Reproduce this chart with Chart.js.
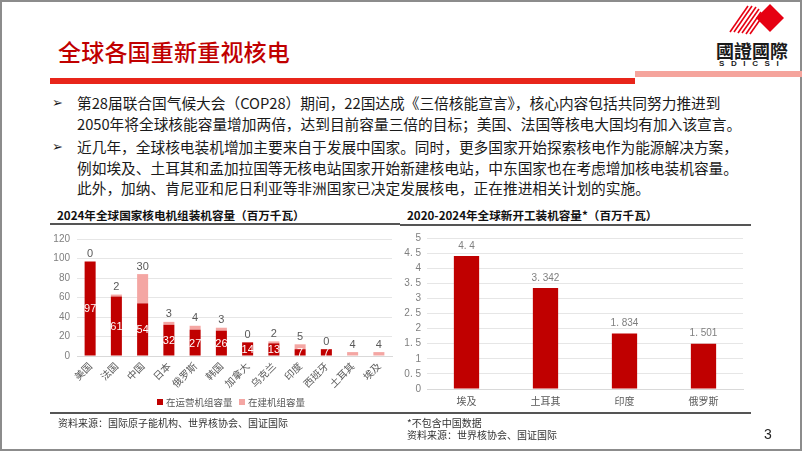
<!DOCTYPE html>
<html lang="zh-CN">
<head>
<meta charset="utf-8">
<script src="https://cdn.jsdelivr.net/npm/chart.js@4.4.1/dist/chart.umd.min.js"></script>
<style>
  html, body { margin: 0; padding: 0; background: #fff; }
  #slide { position: relative; width: 802px; height: 451px; overflow: hidden; font-family: "Noto Sans CJK SC", sans-serif; color: #1a1a1a; }
  .frame { position: absolute; left: 0; top: 0; width: 798px; height: 447px; border: 2px solid #8c8c8c; }
  .abs { position: absolute; white-space: nowrap; }
  .title { left: 58px; top: 36px; font-size: 23px; line-height: 30px; color: #c00000; font-weight: 500; letter-spacing: 0.2px; }
  .redbar { left: 50px; top: 78px; width: 585px; height: 6px; background: #e8251a; }
  .pinkbar { left: 635px; top: 71px; width: 167px; height: 6px; background: #f5a49c; }
  .logo-cn { left: 716px; top: 40px; font-size: 18px; line-height: 20px; font-weight: 700; color: #1a1a1a; letter-spacing: 0px; }
  .logo-en { left: 719px; top: 59px; font-size: 8px; line-height: 9px; font-weight: 700; letter-spacing: 6.6px; font-family: "Liberation Sans", sans-serif; color: #1a1a1a; }
  .para { left: 77px; font-size: 14.7px; line-height: 20.5px; }
  .arrow { left: 52px; font-size: 13px; line-height: 20.5px; font-family: "DejaVu Sans", sans-serif; font-weight: 700; }
  .ctitle { top: 206px; font-size: 11.6px; line-height: 18px; font-weight: 700; color: #111; }
  .hline { height: 1.5px; background: #555; }
  .note { font-size: 10px; line-height: 13px; color: #333; }
  .legend { top: 396px; font-size: 9.5px; line-height: 13px; color: #595959; }
  .legend i { display: inline-block; width: 6px; height: 6px; margin-right: 3px; vertical-align: 1px; }
  canvas { position: absolute; }
</style>
</head>
<body>
<div id="slide">
  <div class="frame"></div>

  <div class="abs title">全球各国重新重视核电</div>
  <div class="abs redbar"></div>
  <div class="abs pinkbar"></div>

  <svg class="abs" style="left:726px;top:2px" width="60" height="34" viewBox="0 0 60 34">
    <polygon points="44,2 58,16 44,30 30,16" fill="#e60012"/>
    <g stroke="#e60012" stroke-width="1.6">
      <line x1="4" y1="30" x2="22" y2="4"/>
      <line x1="8" y1="30" x2="26" y2="4"/>
      <line x1="12" y1="31" x2="30" y2="5"/>
      <line x1="16" y1="31" x2="33" y2="7"/>
      <line x1="20" y1="32" x2="35" y2="10"/>
      <line x1="24" y1="32" x2="36" y2="15"/>
    </g>
  </svg>
  <div class="abs logo-cn">國證國際</div>
  <div class="abs logo-en">SDICSI</div>

  <div class="abs arrow" style="top:93px">➢</div>
  <div class="abs para" style="top:93px">第28届联合国气候大会（COP28）期间，22国达成《三倍核能宣言》，核心内容包括共同努力推进到<br>2050年将全球核能容量增加两倍，达到目前容量三倍的目标；美国、法国等核电大国均有加入该宣言。</div>
  <div class="abs arrow" style="top:137px">➢</div>
  <div class="abs para" style="top:137px">近几年，全球核电装机增加主要来自于发展中国家。同时，更多国家开始探索核电作为能源解决方案，<br>例如埃及、土耳其和孟加拉国等无核电站国家开始新建核电站，中东国家也在考虑增加核电装机容量。<br>此外，加纳、肯尼亚和尼日利亚等非洲国家已决定发展核电，正在推进相关计划的实施。</div>

  <div class="abs ctitle" style="left:57px">2024年全球国家核电机组装机容量（百万千瓦）</div>
  <div class="abs hline" style="left:50px;top:223px;width:350px"></div>
  <div class="abs ctitle" style="left:407px">2020-2024年全球新开工装机容量*（百万千瓦）</div>
  <div class="abs hline" style="left:400px;top:224px;width:351px"></div>

  <canvas id="chart-capacity" width="350" height="170" style="left:50px;top:226px"></canvas>
  <canvas id="chart-new-start" width="352" height="184" style="left:400px;top:226px"></canvas>

  <div class="abs legend" style="left:157px"><i style="background:#c00000"></i>在运营机组容量</div>
  <div class="abs legend" style="left:239px"><i style="background:#f4a6a3"></i>在建机组容量</div>

  <div class="abs hline" style="left:50px;top:412px;width:350px"></div>
  <div class="abs hline" style="left:400px;top:412px;width:351px"></div>
  <div class="abs note" style="left:58px;top:416px">资料来源：国际原子能机构、世界核协会、国证国际</div>
  <div class="abs note" style="left:407px;top:416px">*不包含中国数据</div>
  <div class="abs note" style="left:407px;top:428px">资料来源：世界核协会、国证国际</div>
  <div class="abs" style="left:764px;top:425px;font-size:14px;line-height:18px;font-family:'Liberation Sans',sans-serif;color:#222">3</div>
</div>

<script>
// 2024年各国核电装机容量（百万千瓦）
const countries = ['美国', '法国', '中国', '日本', '俄罗斯', '韩国', '加拿大', '乌克兰', '印度', '西班牙', '土耳其', '埃及'];
const operating = [97, 61, 54, 32, 27, 26, 14, 13, 7, 7, 0, 0];
const underConstruction = [0, 2, 30, 3, 4, 3, 0, 2, 5, 0, 4, 4];
const capacityTicks = [0, 20, 40, 60, 80, 100, 120];

// 2020-2024年新开工装机容量（不含中国）
const startCountries = ['埃及', '土耳其', '印度', '俄罗斯'];
const startCapacity = [4.4, 3.342, 1.834, 1.501];
const startTicks = [0, 0.5, 1, 1.5, 2, 2.5, 3, 3.5, 4, 4.5, 5];

const DARK = '#c00000';
const PINK = '#f4a6a3';
const LABEL_FONT = '"Noto Sans CJK SC", sans-serif';
const NUM_FONT = '"Liberation Sans", Arial, sans-serif';

// 小数点后加空格，模仿原图的全角效果
const fmt = (v) => (Number.isInteger(v) ? String(v) : String(v).replace('.', '. '));

/** 柱子数值标签 */
const barLabels = {
  id: 'barLabels',
  afterDatasetsDraw(chart) {
    const ctx = chart.ctx;
    ctx.save();
    ctx.textAlign = 'center';
    chart.data.datasets.forEach((ds, i) => {
      const meta = chart.getDatasetMeta(i);
      const opt = ds.valueLabel;
      if (!opt) return;
      ctx.font = opt.size + 'px ' + NUM_FONT;
      ctx.fillStyle = opt.color;
      meta.data.forEach((bar, j) => {
        const v = ds.data[j];
        if (opt.pos === 'inside') {
          if (!v) return;
          ctx.textBaseline = 'middle';
          ctx.fillText(fmt(v), bar.x, (bar.y + bar.base) / 2 + 1);
        } else {
          ctx.textBaseline = 'bottom';
          ctx.fillText(fmt(v), bar.x, bar.y - opt.gap);
        }
      });
    });
    ctx.restore();
  },
};

new Chart(document.getElementById('chart-capacity'), {
  type: 'bar',
  data: {
    labels: countries,
    datasets: [
      {
        label: '在运营机组容量',
        data: operating,
        backgroundColor: DARK,
        barPercentage: 0.42,
        categoryPercentage: 1,
        valueLabel: { pos: 'inside', color: '#fff', size: 11 },
      },
      {
        label: '在建机组容量',
        data: underConstruction,
        backgroundColor: PINK,
        barPercentage: 0.42,
        categoryPercentage: 1,
        valueLabel: { pos: 'top', color: '#595959', size: 11, gap: 2 },
      },
    ],
  },
  options: {
    responsive: false,
    animation: false,
    layout: { padding: { top: 8, right: 8, left: 0, bottom: 0 } },
    plugins: { legend: { display: false }, tooltip: { enabled: false } },
    scales: {
      x: {
        stacked: true,
        grid: { display: false, drawTicks: false },
        border: { color: '#d9d9d9' },
        ticks: { minRotation: 45, maxRotation: 45, color: '#595959', padding: 4, font: { size: 10, family: LABEL_FONT } },
        afterFit(s) { s.height = 40; },
      },
      y: {
        stacked: true,
        min: 0,
        max: 120,
        afterBuildTicks(s) { s.ticks = capacityTicks.map((v) => ({ value: v })); },
        ticks: { color: '#7f7f7f', padding: 7, font: { size: 10, family: NUM_FONT } },
        grid: { color: '#e6e6e6', drawTicks: false },
        border: { display: false },
        afterFit(s) { s.width = 27; },
      },
    },
  },
  plugins: [barLabels],
});

new Chart(document.getElementById('chart-new-start'), {
  type: 'bar',
  data: {
    labels: startCountries,
    datasets: [{
      label: '新开工装机容量',
      data: startCapacity,
      backgroundColor: DARK,
      barPercentage: 0.32,
      categoryPercentage: 1,
      valueLabel: { pos: 'top', color: '#7f7f7f', size: 10, gap: 5 },
    }],
  },
  options: {
    responsive: false,
    animation: false,
    layout: { padding: { top: 8, right: 9, left: 0, bottom: 0 } },
    plugins: { legend: { display: false }, tooltip: { enabled: false } },
    scales: {
      x: {
        grid: { display: false, drawTicks: false },
        border: { color: '#d9d9d9' },
        ticks: { color: '#595959', padding: 6, font: { size: 10, family: LABEL_FONT } },
        afterFit(s) { s.height = 21; },
      },
      y: {
        min: 0,
        max: 5,
        afterBuildTicks(s) { s.ticks = startTicks.map((v) => ({ value: v })); },
        ticks: { color: '#7f7f7f', padding: 6, font: { size: 10, family: NUM_FONT }, callback: (v) => fmt(v) },
        grid: { color: '#e6e6e6', drawTicks: false },
        border: { display: false },
        afterFit(s) { s.width = 27; },
      },
    },
  },
  plugins: [barLabels],
});
</script>
</body>
</html>
